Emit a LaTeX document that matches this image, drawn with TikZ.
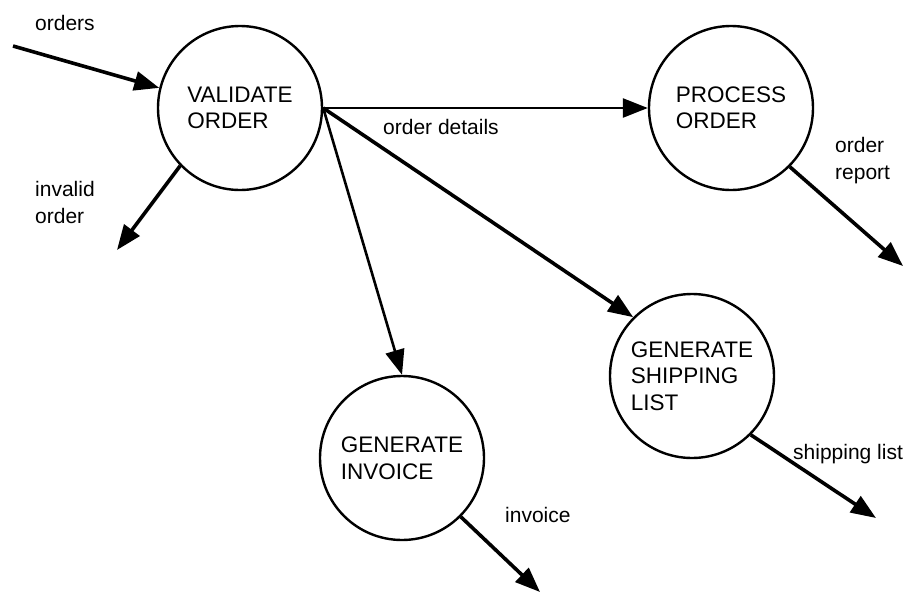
\documentclass[tikz,border=0pt]{standalone}
\usepackage{fontspec}
\setmainfont{Liberation Sans}
\usetikzlibrary{positioning,arrows.meta}
\tikzset{
  bubble/.style={circle,draw,line width=2.4pt,minimum size=164pt,inner sep=0pt,align=left,font=\fontsize{22.5}{26.5}\selectfont},
  arr/.style={-{Triangle[length=25pt,width=19pt]},line width=3.6pt},
  tarr/.style={arr,line width=2.6pt},
  lbl/.style={anchor=west,inner sep=0pt,align=left,font=\fontsize{21}{27}\selectfont}}

\begin{document}
\begin{tikzpicture}[x=1pt,y=-1pt]
\useasboundingbox (0,0) rectangle (906,595);
\node[bubble] (val)  at (240,108) {VALIDATE\\ORDER};
\node[bubble] (proc) at (731,108) {PROCESS\\ORDER};
\node[bubble] (ship) at (692,376) {GENERATE\\SHIPPING\\LIST};
\node[bubble] (inv)  at (402,458) {GENERATE\\INVOICE};
\coordinate (src) at (13,46); \coordinate (bad) at (117,250);
\coordinate (rep) at (903,266); \coordinate (slist) at (876,518);
\coordinate (bill) at (540,592);
\draw[arr] (src)--(val.166); \draw[arr] (val.224)--(bad);
\draw[tarr] (val.east)--(proc.west); \draw[tarr] (val.east)--(inv.north);
\draw[arr] (val.east)--(ship.135);
\draw[arr] (proc.-45)--(rep); \draw[arr] (ship.-45)--(slist); \draw[arr] (inv.-45)--(bill);
\node[lbl] (l1) at (35,23) {orders};
\node[lbl] (l2) at (35,202) {invalid\\order};
\node[lbl] (l3) at (383,127) {order details};
\node[lbl] (l4) at (835,161) {order\\report};
\node[lbl] (l5) at (793,454) {shipping list};
\node[lbl] (l6) at (505,515) {invoice};
\end{tikzpicture}
\end{document}
